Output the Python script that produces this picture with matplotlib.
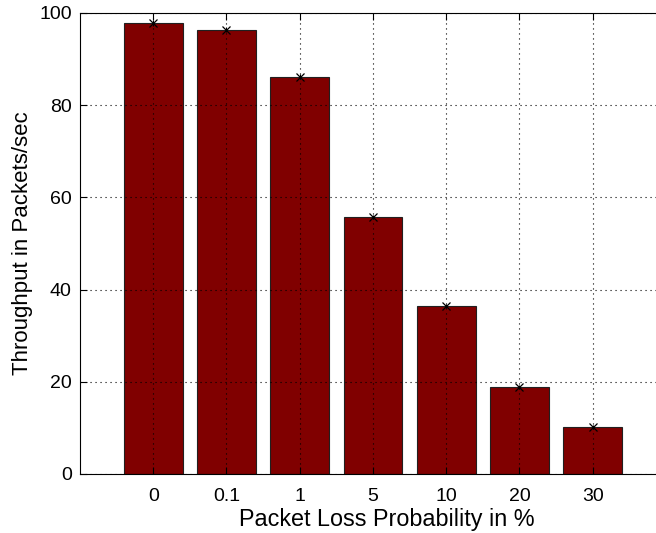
import matplotlib
matplotlib.use("Agg")
import matplotlib.pyplot as plt
import numpy as np

# loss probabilities (%) and measured throughput
loss_labels = ['0', '0.1', '1', '5', '10', '20', '30']
throughput = [97.8, 96.4, 86.2, 55.7, 36.4, 18.9, 10.2]
err = [0.6, 0.5, 0.5, 0.4, 0.4, 0.4, 0.4]

plt.rcParams['font.family'] = ['Liberation Sans', 'DejaVu Sans']

fig = plt.figure(figsize=(6.56, 5.33), dpi=100)
ax = fig.add_axes([80 / 656, 1 - 474 / 533, 586 / 656, 461 / 533])

pos = np.arange(1, len(loss_labels) + 1)
ax.bar(pos, throughput, width=0.8, color='#800000', edgecolor='#202020',
       linewidth=0.8, zorder=2)
ax.errorbar(pos, throughput, yerr=err, fmt='x', color='black', ms=6,
            mew=0.9, elinewidth=0.8, capsize=0, zorder=4)

ax.set_xlim(0, 8)
ax.set_ylim(0, 100)
ax.set_xticks(pos)
ax.set_xticklabels(loss_labels)
ax.set_yticks(np.arange(0, 101, 20))
ax.tick_params(direction='in', top=True, right=True, labelsize=14,
               length=5, width=0.8)
ax.tick_params(axis='x', pad=10)
ax.tick_params(axis='y', pad=6)
ax.grid(True, linestyle=(0, (1, 3.5)), color='black', linewidth=0.8, zorder=3)
ax.set_axisbelow(False)
for s in ax.spines.values():
    s.set_linewidth(0.8)

ax.set_xlabel('Packet Loss Probability in %', fontsize=16.8)
ax.xaxis.set_label_coords(0.524, -0.074)
ax.set_ylabel('Throughput in Packets/sec', fontsize=16, labelpad=4.5)

fig.savefig('out.png', dpi=100)
